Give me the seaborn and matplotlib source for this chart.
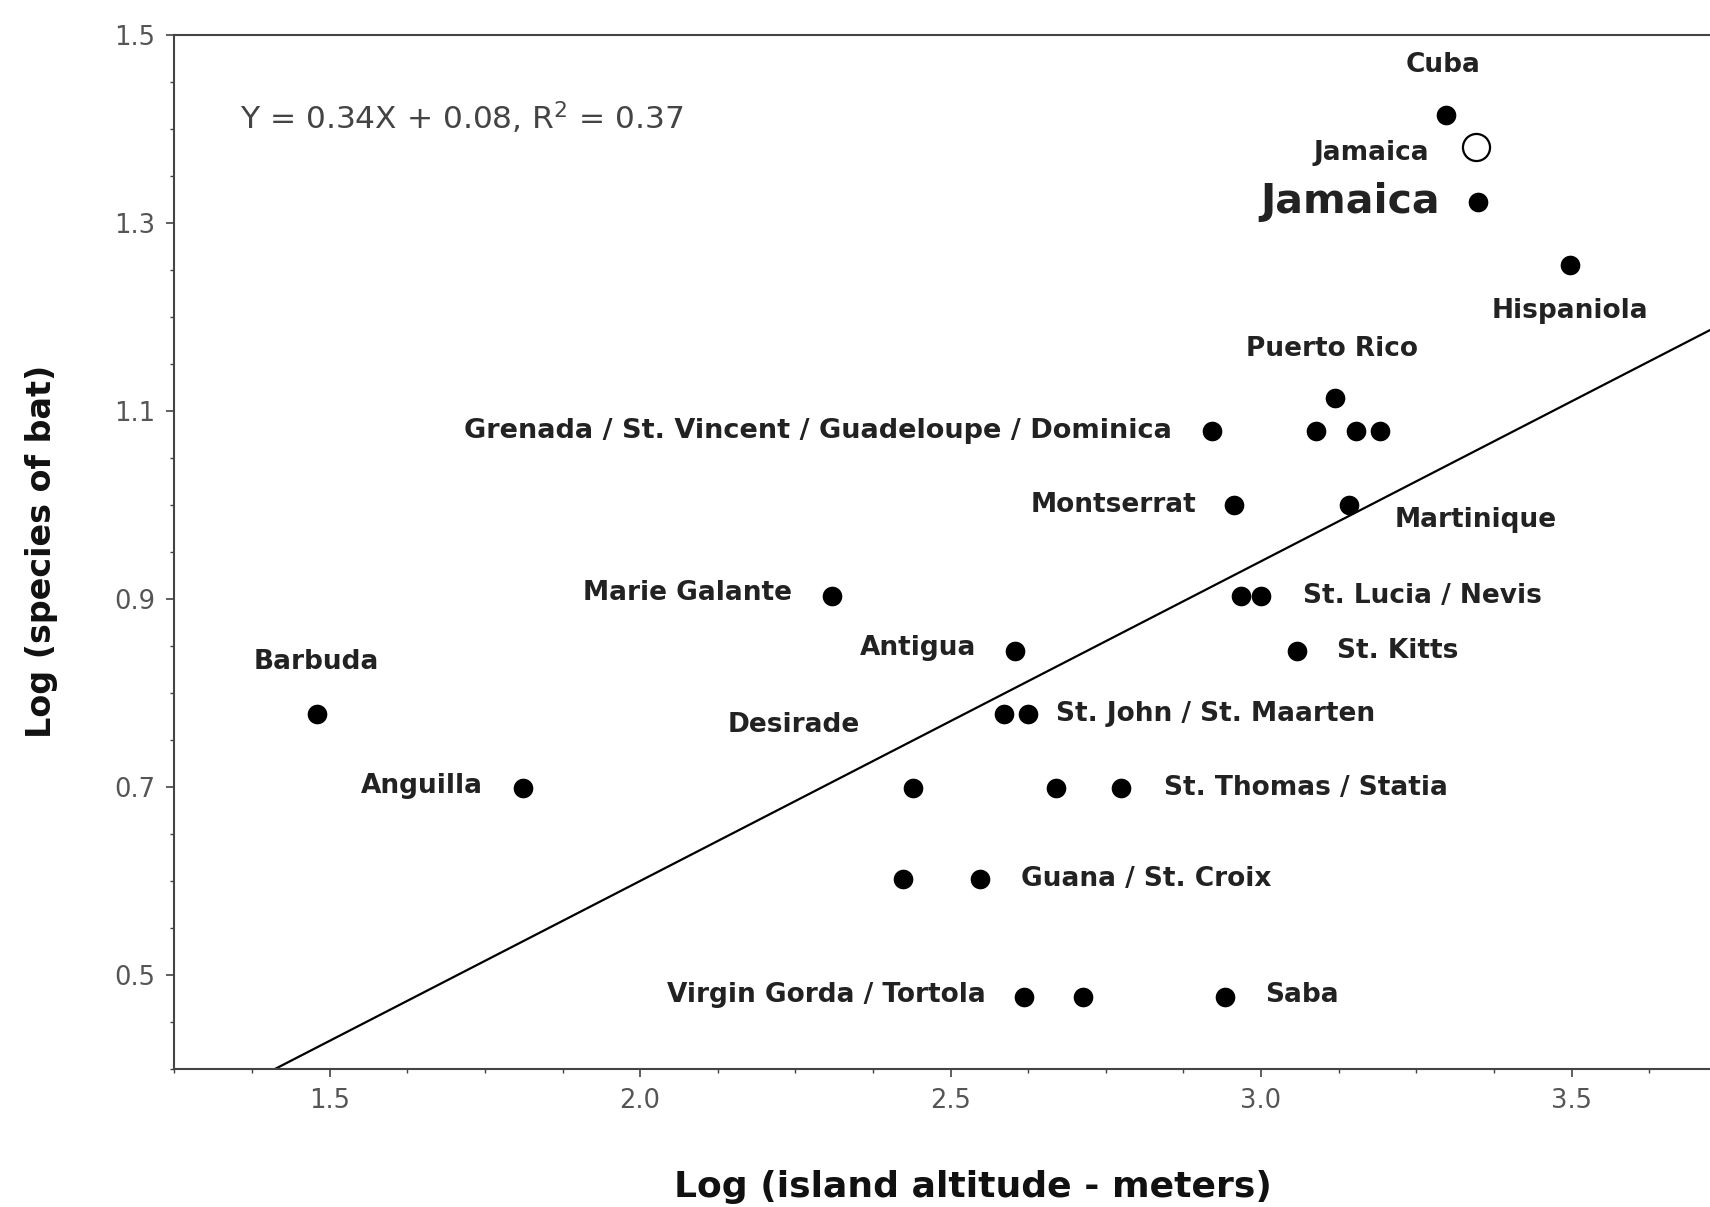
import numpy as np
import pandas as pd
import matplotlib
matplotlib.use("Agg")
import matplotlib.pyplot as plt
import seaborn as sns
from matplotlib.ticker import MultipleLocator, FormatStrFormatter

# island data: log altitude (x) vs log number of bat species (y)
islands = ["Cuba", "Jamaica", "Hispaniola", "Puerto Rico",
           "Grenada", "St. Vincent", "Guadeloupe", "Dominica",
           "Montserrat", "Martinique", "Marie Galante", "St. Lucia", "Nevis",
           "Antigua", "St. Kitts", "Barbuda", "St. John", "St. Maarten",
           "Anguilla", "Desirade", "St. Thomas", "Statia",
           "Guana", "St. Croix", "Virgin Gorda", "Tortola", "Saba"]
log_alt = [3.298, 3.349, 3.498, 3.119,
           2.921, 3.088, 3.153, 3.191,
           2.956, 3.142, 2.309, 2.967, 3.000,
           2.604, 3.058, 1.479, 2.586, 2.625,
           1.811, 2.439, 2.670, 2.775,
           2.423, 2.547, 2.619, 2.714, 2.942]
log_bats = [1.415, 1.322, 1.255, 1.114,
            1.079, 1.079, 1.079, 1.079,
            1.000, 1.000, 0.903, 0.903, 0.903,
            0.845, 0.845, 0.778, 0.778, 0.778,
            0.699, 0.699, 0.699, 0.699,
            0.602, 0.602, 0.477, 0.477, 0.477]

# Jamaica alternative value (open circle)
open_name = ["Jamaica (alt)"]
open_alt = [3.346]
open_bats = [1.380]

# regression line as drawn
slope = 0.34
intercept = -0.08
equation = "Y = 0.34X + 0.08, R$^2$ = 0.37"

x_ticks = [1.5, 2.0, 2.5, 3.0, 3.5]
y_ticks = [0.5, 0.7, 0.9, 1.1, 1.3, 1.5]

df = pd.DataFrame({"island": islands, "x": log_alt, "y": log_bats})
df_open = pd.DataFrame({"island": open_name, "x": open_alt, "y": open_bats})

# labels: text, anchor island, offset (points), ha, fontsize
labels = [
    ("Cuba", "Cuba", (-2, 36), "center", 19),
    ("Jamaica", "Jamaica (alt)", (-34, -4), "right", 19),
    ("Jamaica", "Jamaica", (-27, 0), "right", 29.5),
    ("Hispaniola", "Hispaniola", (0, -33), "center", 19),
    ("Puerto Rico", "Puerto Rico", (-2, 35), "center", 19),
    ("Grenada / St. Vincent / Guadeloupe / Dominica", "Grenada", (-29, 0), "right", 19.5),
    ("Montserrat", "Montserrat", (-27, 0), "right", 19),
    ("Martinique", "Martinique", (33, -11), "left", 19),
    ("Marie Galante", "Marie Galante", (-29, 2), "right", 19),
    ("St. Lucia / Nevis", "Nevis", (30, 0), "left", 19),
    ("Antigua", "Antigua", (-28, 2), "right", 19),
    ("St. Kitts", "St. Kitts", (29, 0), "left", 19),
    ("Barbuda", "Barbuda", (0, 37), "center", 19),
    ("Desirade", "Desirade", (-86, 45), "center", 19),
    ("St. John / St. Maarten", "St. Maarten", (20, 0), "left", 19),
    ("Anguilla", "Anguilla", (-29, 1), "right", 19),
    ("St. Thomas / Statia", "Statia", (31, 0), "left", 19),
    ("Guana / St. Croix", "St. Croix", (30, 0), "left", 19),
    ("Virgin Gorda / Tortola", "Virgin Gorda", (-28, 1), "right", 19),
    ("Saba", "Saba", (29, 1), "left", 19),
]

sns.set_theme(style="ticks")
plt.rcParams["font.family"] = ["DejaVu Sans"]
plt.rcParams["mathtext.fontset"] = "dejavusans"

fig = plt.figure(figsize=(17.1, 12.07), dpi=100)
ax = fig.add_axes([0.102, 0.1143, 0.898, 0.857])

sns.scatterplot(data=df, x="x", y="y", ax=ax, color="black", s=200,
                edgecolor="black", linewidth=0, legend=False, zorder=3)
sns.scatterplot(data=df_open, x="x", y="y", ax=ax, color="white", s=380,
                edgecolor="black", linewidth=1.6, legend=False, zorder=3)

ax.axline((0, intercept), slope=slope, color="black", lw=1.6, zorder=2)

ax.set_xlim(1.25, 3.723)
ax.set_ylim(0.4, 1.5)

pos = {**dict(zip(df.island, zip(df.x, df.y))),
       **dict(zip(df_open.island, zip(df_open.x, df_open.y)))}
for text, anchor, off, ha, fs in labels:
    ax.annotate(text, pos[anchor], xytext=off, textcoords="offset points",
                ha=ha, va="center", fontsize=fs, fontweight="bold",
                color="#222222")

ax.text(0.043, 0.92, equation, transform=ax.transAxes, fontsize=22.5,
        color="#444444", va="center", ha="left")

ax.set_xticks(x_ticks)
ax.set_yticks(y_ticks)
ax.xaxis.set_minor_locator(MultipleLocator(0.125))
ax.yaxis.set_minor_locator(MultipleLocator(0.05))
ax.xaxis.set_major_formatter(FormatStrFormatter("%.1f"))
ax.yaxis.set_major_formatter(FormatStrFormatter("%.1f"))
ax.tick_params(axis="both", which="major", length=6, width=1.2,
               color="#444444", labelsize=18.5, labelcolor="#555555", pad=8)
ax.tick_params(axis="both", which="minor", length=3, width=1.0,
               color="#444444")

for side in ["left", "bottom", "top"]:
    ax.spines[side].set_color("#444444")
    ax.spines[side].set_linewidth(1.5)
ax.spines["right"].set_visible(False)

ax.set_xlabel("Log (island altitude - meters)", fontsize=26,
              fontweight="bold", color="#111111")
ax.xaxis.set_label_coords(0.52, -0.098)
ax.set_ylabel("Log (species of bat)", fontsize=24, fontweight="bold",
              labelpad=40, color="#111111")

fig.savefig("out.png", dpi=100, facecolor="white")
